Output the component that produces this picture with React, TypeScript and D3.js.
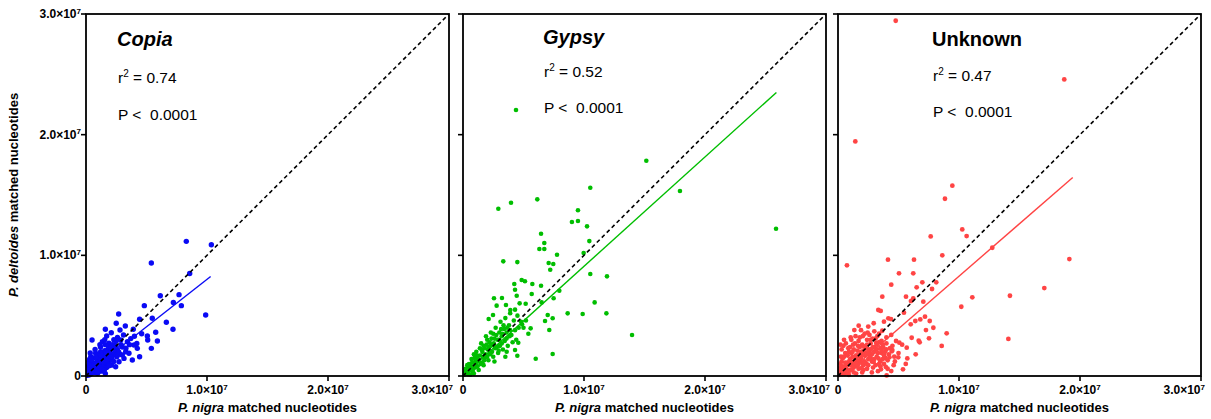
import React from "react";
import * as d3 from "d3";

// values in millions of nucleotides (x = P. nigra, y = P. deltoides)
const copiaPoints: [number, number][] = [
  [8.29, 11.16], [10.36, 10.88], [5.4, 9.36], [8.57, 8.5], [6.14, 6.65], [7.69, 6.74], [7.22, 6.1],
  [7.88, 5.83], [4.82, 5.83], [2.7, 5.14], [9.89, 5.05], [4.43, 4.7], [5.48, 4.78], [2.5, 4.37],
  [6.64, 4.45], [3.25, 4.14], [3.91, 3.87], [7.19, 3.87], [1.6, 3.87], [2.09, 3.59], [2.81, 3.81],
  [5.76, 3.62], [5.07, 3.31], [1.71, 3.31], [0.5, 2.98], [5.9, 2.9], [5.1, 2.98], [5.4, 2.29],
  [4.24, 2.29], [4.43, 1.6], [3.83, 1.33], [3.14, 1.46], [2.87, 2.98], [3.42, 2.84], [3.97, 2.57],
  [2.37, 2.57], [1.9, 2.71], [1.35, 2.84], [2.59, 2.15], [3.28, 2.01], [2.17, 1.82], [2.73, 1.18],
  [2.45, 0.77], [1.76, 0.91], [1.49, 0.5], [0.94, 0.22], [0.66, 1.05], [1.07, 1.46], [0.39, 1.6],
  [1.21, 2.01], [0.8, 1.88], [0.25, 1.18], [0.11, 0.64], [0.52, 0.5], [1.63, 1.6], [2.04, 1.33],
  [3.0, 1.74], [3.55, 1.88], [1.35, 1.18], [0.94, 0.77],
  [0.3, 0.4], [0.5, 0.9], [0.7, 0.3], [0.9, 1.2], [1.1, 0.6], [1.3, 1.9], [1.5, 1.0], [1.8, 2.2],
  [2.0, 1.7], [2.2, 2.6], [1.2, 2.4], [0.6, 1.5], [1.7, 0.7], [2.4, 1.9], [1.0, 1.7], [0.2, 0.8],
  [0.4, 0.2], [0.8, 0.6], [1.4, 1.4], [1.9, 1.2], [2.6, 3.2], [2.3, 3.0], [1.6, 2.6], [3.0, 2.4],
  [2.8, 1.8], [0.1, 0.3], [0.3, 1.4], [1.1, 1.1], [1.6, 0.2], [2.1, 0.9], [0.6, 0.7], [1.3, 0.4],
  [0.2, 0.1], [1.9, 2.4], [2.5, 2.9], [1.0, 0.3], [0.45, 1.2], [1.55, 2.1], [3.6, 2.6], [4.0, 3.3],
  [0.15, 0.5], [0.35, 0.7], [0.55, 0.3], [0.75, 1.0], [0.95, 0.5], [1.15, 1.3], [1.35, 0.8],
  [1.55, 1.7], [1.75, 1.1], [1.95, 2.0], [2.15, 1.4], [2.35, 2.2], [2.55, 1.6], [0.25, 0.95],
  [0.45, 1.35], [0.65, 0.85], [0.85, 1.55], [1.05, 0.95], [1.25, 1.75], [1.45, 1.15], [1.65, 1.95],
  [1.85, 1.45], [2.05, 2.35], [2.25, 1.75], [0.1, 0.15], [0.3, 0.1], [0.5, 0.25], [0.7, 0.55],
  [0.9, 0.35], [1.1, 0.8], [1.3, 0.6], [1.5, 0.45], [1.7, 1.3], [1.9, 0.85], [2.1, 1.6], [2.3, 1.2],
  [2.5, 2.4], [2.7, 2.0], [0.35, 1.9], [0.75, 2.2], [1.15, 2.6], [1.55, 3.0], [2.9, 2.6], [3.3, 2.3],
  [3.7, 3.1], [4.2, 2.7], [4.6, 3.5], [3.1, 3.4], [0.05, 0.05], [0.2, 0.35],
];

const gypsyPoints: [number, number][] = [
  [15.15, 17.84], [17.93, 15.33], [25.87, 12.2], [10.52, 15.6], [6.14, 14.64], [3.97, 14.36],
  [2.92, 13.86], [9.5, 13.73], [9.0, 12.76], [9.5, 12.84], [10.25, 12.4], [6.45, 11.79],
  [10.44, 11.18], [6.72, 11.02], [6.31, 10.52], [6.72, 10.52], [9.97, 10.19], [7.77, 10.05],
  [3.33, 9.5], [4.49, 9.44], [7.08, 9.36], [7.46, 9.28], [7.21, 8.81], [10.52, 8.45], [11.9, 8.26],
  [4.85, 7.95], [5.12, 7.85], [4.24, 7.62], [5.73, 7.62], [6.45, 7.48], [4.3, 7.15], [7.96, 7.07],
  [5.68, 6.79], [4.44, 6.65], [7.49, 6.44], [2.56, 6.44], [3.22, 6.46], [10.88, 6.1], [6.5, 6.1],
  [4.68, 6.02], [5.18, 5.99], [2.78, 5.83], [3.55, 5.88], [3.91, 5.47], [8.65, 5.19], [9.89, 5.14],
  [11.85, 5.19], [7.0, 5.05], [2.48, 5.05], [7.41, 4.78], [2.12, 4.72], [6.78, 4.56], [4.88, 4.28],
  [5.59, 3.95], [7.13, 3.81], [13.97, 3.4], [4.57, 2.76], [3.61, 2.01], [4.3, 2.15], [4.49, 1.68],
  [7.41, 1.82], [6.01, 1.43],
  [0.3, 0.2], [0.5, 0.7], [0.8, 0.4], [1.0, 1.2], [1.2, 0.8], [1.4, 1.7], [1.6, 1.1], [1.8, 2.3],
  [2.0, 1.6], [2.2, 2.8], [2.4, 2.0], [2.6, 3.1], [2.8, 2.4], [3.0, 3.6], [3.2, 2.7], [3.4, 3.9],
  [3.6, 3.1], [3.8, 4.2], [4.0, 3.4], [1.1, 2.0], [0.7, 1.4], [1.5, 2.7], [1.9, 3.3], [2.3, 3.6],
  [2.7, 4.0], [3.1, 4.5], [3.5, 4.8], [0.2, 0.6], [0.6, 0.1], [1.3, 0.5], [1.7, 0.9], [2.1, 1.3],
  [2.5, 1.6], [2.9, 1.9], [3.3, 2.2], [3.7, 2.5], [4.1, 2.8], [4.4, 3.0], [0.9, 1.8], [1.6, 2.0],
  [2.3, 2.5], [2.0, 3.0], [3.0, 3.0], [3.9, 3.8], [4.6, 4.0], [4.2, 4.6], [5.0, 4.0], [5.4, 3.5],
  [1.2, 1.5], [0.4, 0.9], [2.6, 1.2], [3.5, 1.6], [0.9, 0.2], [1.4, 2.3], [1.8, 1.5], [2.2, 2.0],
  [3.2, 3.3], [3.6, 3.6], [0.5, 1.0], [1.0, 0.7],
  [0.1, 0.1], [0.25, 0.4], [0.45, 0.3], [0.65, 0.8], [0.85, 0.6], [1.05, 1.0], [1.25, 1.3],
  [1.45, 1.0], [1.65, 1.6], [1.85, 1.8], [2.05, 2.2], [2.25, 1.8], [2.45, 2.6], [2.65, 2.3],
  [2.85, 3.0], [3.05, 2.5], [3.25, 3.5], [3.45, 2.9], [3.65, 4.0], [3.85, 3.3], [0.35, 0.9],
  [0.55, 0.5], [0.75, 1.1], [0.95, 1.5], [1.15, 1.7], [1.35, 1.2], [1.55, 2.2], [1.75, 1.3],
  [1.95, 2.6], [2.15, 2.4], [2.35, 3.1], [2.55, 2.7], [2.75, 3.4], [2.95, 2.1], [3.15, 3.9],
  [3.35, 4.2], [4.3, 3.8], [4.8, 4.5], [4.5, 5.0], [5.2, 4.6], [3.9, 5.2], [4.3, 5.5], [0.15, 0.3],
  [0.4, 0.15], [1.7, 2.5], [2.5, 3.5],
];

const unknownPoints: [number, number][] = [
  [4.77, 29.44], [18.7, 24.58], [1.43, 19.44], [9.45, 15.77], [8.84, 14.69], [10.27, 12.15],
  [10.63, 11.6], [7.66, 11.57], [12.75, 10.63], [8.62, 10.0], [19.12, 9.69], [0.74, 9.17],
  [4.13, 9.64], [6.28, 9.64], [5.04, 8.51], [6.22, 8.51], [4.4, 7.57], [6.97, 7.76], [8.12, 7.76],
  [6.5, 7.35], [7.77, 7.21], [17.05, 7.29], [14.21, 6.65], [11.1, 6.52], [3.66, 6.57], [5.62, 6.57],
  [6.22, 6.44], [6.03, 6.21], [7.05, 6.16], [10.19, 5.74], [3.33, 5.47], [3.53, 5.39], [5.45, 5.25],
  [4.16, 4.78], [4.38, 4.72], [6.8, 4.69], [7.19, 4.92], [6.39, 4.56], [3.8, 4.5], [2.95, 4.37],
  [6.01, 4.28], [7.58, 4.56], [7.88, 4.0], [7.27, 3.81], [1.71, 4.17], [1.35, 3.81], [8.98, 3.54],
  [3.66, 3.75], [14.08, 3.07], [7.52, 3.12], [6.09, 3.17], [6.67, 2.92], [6.75, 2.79], [8.57, 2.49],
  [5.07, 2.76], [4.49, 2.15], [5.68, 2.35], [6.42, 1.8], [5.73, 1.46], [4.98, 1.55], [5.37, 0.55],
  [4.4, 0.41], [0.39, 1.52], [4.02, 0.05],
  [0.2, 0.3], [0.4, 0.8], [0.6, 0.2], [0.8, 1.1], [1.0, 0.5], [1.2, 1.6], [1.4, 0.9], [1.6, 2.1],
  [1.8, 1.3], [2.0, 2.6], [2.2, 1.7], [2.4, 3.0], [2.6, 2.0], [2.8, 1.2], [3.0, 2.4], [3.2, 1.6],
  [3.4, 2.8], [3.6, 1.9], [3.8, 1.0], [4.0, 2.2], [0.3, 1.2], [0.5, 1.6], [0.7, 0.6], [0.9, 0.1],
  [1.1, 1.9], [1.3, 0.3], [1.5, 1.3], [1.7, 0.6], [1.9, 2.0], [2.1, 0.9], [2.3, 2.3], [2.5, 1.4],
  [2.7, 2.7], [2.9, 0.7], [3.1, 3.1], [3.3, 0.4], [3.5, 1.2], [3.7, 2.6], [3.9, 1.5], [4.2, 1.8],
  [4.5, 2.5], [4.7, 1.2], [5.0, 1.9], [5.3, 2.6], [5.6, 1.0], [0.1, 0.6], [0.6, 1.9], [1.0, 2.4],
  [1.4, 2.7], [1.8, 3.2], [2.2, 3.5], [2.6, 3.4], [3.0, 3.7], [3.4, 3.5], [0.4, 0.4], [0.8, 0.3],
  [1.2, 0.9], [1.6, 1.6], [2.0, 1.1], [2.4, 0.6], [2.8, 1.8], [3.2, 2.2], [3.6, 2.9], [4.0, 3.2],
  [4.4, 3.4], [4.8, 2.9], [0.2, 1.0], [0.5, 0.5], [1.0, 1.4], [1.5, 0.2], [2.0, 0.3], [2.5, 2.2],
  [3.0, 1.4], [3.5, 0.8], [4.1, 0.6], [4.6, 0.9], [1.3, 2.2], [1.7, 2.9], [2.1, 2.1], [2.7, 3.0],
  [0.9, 2.0], [0.3, 2.2], [1.1, 3.0], [1.9, 3.8], [2.5, 4.1],
  [0.1, 0.1], [0.3, 0.5], [0.5, 0.2], [0.7, 0.9], [0.9, 0.4], [1.1, 1.2], [1.3, 0.7], [1.5, 1.7],
  [1.7, 1.0], [1.9, 1.5], [2.1, 0.5], [2.3, 1.9], [2.5, 0.9], [2.7, 1.5], [2.9, 2.4], [3.1, 0.9],
  [3.3, 1.9], [3.5, 2.3], [3.7, 1.4], [3.9, 2.0], [4.1, 1.3], [4.3, 2.3], [0.2, 0.7], [0.4, 1.5],
  [0.6, 1.1], [0.8, 1.7], [1.0, 0.9], [1.2, 2.0], [1.4, 1.2], [1.6, 0.8], [1.8, 2.4], [2.0, 1.8],
  [2.2, 1.2], [2.4, 2.6], [2.6, 1.7], [2.8, 0.3], [3.0, 2.0], [3.2, 2.6], [3.4, 1.0], [3.6, 2.1],
  [3.8, 1.7], [4.0, 2.7], [0.15, 0.2], [0.35, 0.15], [0.55, 0.65], [0.75, 0.35], [0.95, 1.25],
  [1.15, 0.55], [1.35, 1.55], [1.55, 1.05], [1.75, 1.75], [1.95, 0.65], [2.15, 2.45], [2.35, 1.05],
  [2.55, 1.85], [2.75, 2.25], [2.95, 1.15], [3.15, 2.75], [3.35, 1.45], [3.55, 0.55], [3.75, 2.35],
  [3.95, 0.75], [4.25, 1.55], [4.45, 2.05], [4.65, 1.6], [0.25, 1.6], [0.45, 2.5], [0.65, 2.7],
  [0.85, 2.3], [1.05, 3.2], [1.25, 2.6], [1.45, 3.3], [1.65, 2.5], [2.05, 3.3], [2.45, 3.6],
  [2.85, 3.1], [3.25, 3.3], [0.5, 3.0], [0.2, 2.6],
];

// regression line endpoints (millions)
const copiaFit: [number, number][] = [[0, 0.15], [10.3, 8.24]];
const gypsyFit: [number, number][] = [[0, 0.03], [25.9, 23.5]];
const unknownFit: [number, number][] = [[0.5, 0.0], [19.4, 16.45]];
const identityLine: [number, number][] = [[0, 0], [30, 30]];

const panelNames = ["Copia", "Gypsy", "Unknown"];
const r2Values = ["0.74", "0.52", "0.47"];
const pValues = ["0.0001", "0.0001", "0.0001"];
const tickValues = [0, 10, 20, 30];
const tickMantissa = ["0", "1.0", "2.0", "3.0"];
const xAxisLabelItalic = "P. nigra";
const xAxisLabelRest = " matched nucleotides";
const yAxisLabelItalic = "P. deltoides";
const yAxisLabelRest = " matched nucleotides";

const FONT = "'Liberation Sans', Arial, sans-serif";

function TickLabel({ i }: { i: number }) {
  if (i === 0) return <>{tickMantissa[0]}</>;
  return (
    <>
      {tickMantissa[i]}×10
      <tspan fontSize={8} dy={-4.5}>7</tspan>
    </>
  );
}

export default function App() {
  const W = 1211, H = 419;
  const top = 14, bottom = 376, pw = 363;
  const lefts = [86, 463, 838];
  const colors = ["#0A0AF5", "#00BE00", "#FF4444"];
  const series = [copiaPoints, gypsyPoints, unknownPoints];
  const fits = [copiaFit, gypsyFit, unknownFit];
  const radii = [2.7, 2.3, 2.4];
  const titleX = [117, 543, 932];
  const titleY = [46, 44, 46];
  const r2Y = [83, 77, 81];
  const pY = [120, 113, 117];

  const y = d3.scaleLinear().domain([0, 30]).range([bottom, top]);

  return (
    <svg width={W} height={H} style={{ position: "absolute", left: 0, top: 0, background: "#fff" }} fontFamily={FONT}>
      {/* y axis label */}
      <text transform={`translate(18,${(top + bottom) / 2}) rotate(-90)`} textAnchor="middle" fontSize={13} fontWeight="bold">
        <tspan fontStyle="italic">{yAxisLabelItalic}</tspan>
        <tspan>{yAxisLabelRest}</tspan>
      </text>
      {/* y tick labels on first panel */}
      {tickValues.map((t, i) => (
        <text key={"yl" + i} x={81} y={y(t) + 4} textAnchor="end" fontSize={12} fontWeight="bold">
          <TickLabel i={i} />
        </text>
      ))}
      {lefts.map((left, p) => {
        const x = d3.scaleLinear().domain([0, 30]).range([left, left + pw]);
        const line = d3.line<[number, number]>().x((d) => x(d[0])).y((d) => y(d[1]));
        return (
          <g key={p}>
            <defs>
              <clipPath id={"clip" + p}>
                <rect x={left} y={top - 4} width={pw} height={bottom - top + 8} />
              </clipPath>
            </defs>
            {/* points */}
            <g fill={colors[p]} clipPath={`url(#clip${p})`}>
              {series[p].map((d, k) => (
                <circle key={k} cx={x(d[0])} cy={y(d[1])} r={radii[p]} />
              ))}
            </g>
            {/* regression */}
            <path d={line(fits[p]) || ""} stroke={colors[p]} strokeWidth={1.4} fill="none" />
            {/* identity */}
            <path d={line(identityLine) || ""} stroke="#000" strokeWidth={1.6} strokeDasharray="4,3" fill="none" />
            {/* frame */}
            <rect x={left} y={top} width={pw} height={bottom - top} fill="none" stroke="#000" strokeWidth={1.8} />
            {/* ticks */}
            {tickValues.map((t, i) => (
              <g key={"t" + i}>
                <line x1={x(t)} x2={x(t)} y1={bottom} y2={bottom + 5} stroke="#000" strokeWidth={1.6} />
                <line x1={left - 5} x2={left} y1={y(t)} y2={y(t)} stroke="#000" strokeWidth={1.6} />
                <text
                  x={i === 3 ? x(t) + 4 : x(t)}
                  y={394}
                  textAnchor={i === 3 ? "end" : "middle"}
                  fontSize={12}
                  fontWeight="bold"
                >
                  <TickLabel i={i} />
                </text>
              </g>
            ))}
            {/* x axis label */}
            <text x={left + pw / 2} y={412} textAnchor="middle" fontSize={13} fontWeight="bold">
              <tspan fontStyle="italic">{xAxisLabelItalic}</tspan>
              <tspan>{xAxisLabelRest}</tspan>
            </text>
            {/* annotations */}
            <text x={titleX[p]} y={titleY[p]} fontSize={20} fontWeight="bold" fontStyle={p < 2 ? "italic" : "normal"}>
              {panelNames[p]}
            </text>
            <text x={titleX[p] + 1} y={r2Y[p]} fontSize={15.5}>
              r<tspan fontSize={10} dy={-6}>2</tspan>
              <tspan dy={6}> = {r2Values[p]}</tspan>
            </text>
            <text x={titleX[p] + 1} y={pY[p]} fontSize={15.5} style={{ whiteSpace: "pre" }}>
              {"P <  " + pValues[p]}
            </text>
          </g>
        );
      })}
      {/* stray green point beside Gypsy annotation */}
      <circle cx={516} cy={110} r={2.3} fill="#00BE00" />
    </svg>
  );
}
